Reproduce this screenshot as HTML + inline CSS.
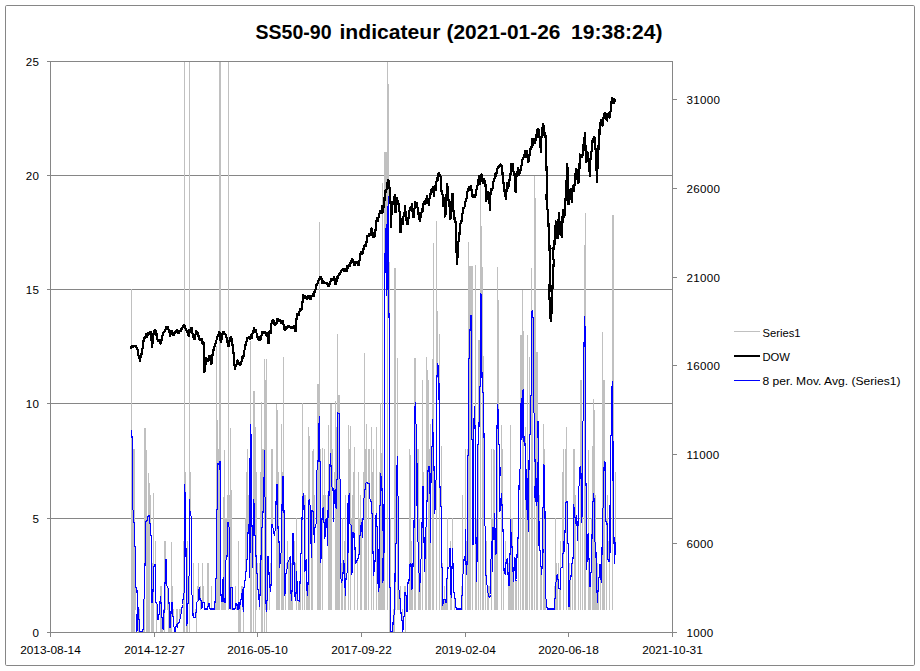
<!DOCTYPE html>
<html><head><meta charset="utf-8"><title>SS50-90 indicateur</title>
<style>
html,body{margin:0;padding:0;background:#fff;}
body{width:920px;height:671px;overflow:hidden;font-family:"Liberation Sans",sans-serif;}
svg{display:block;}
text{font-family:"Liberation Sans",sans-serif;fill:#000;}
.ax{font-size:11.6px;}
.ttl{font-size:20.6px;font-weight:bold;}
</style></head><body>
<svg width="920" height="671" viewBox="0 0 920 671">
<rect x="0" y="0" width="920" height="671" fill="#fff"/>
<rect x="5.5" y="5.5" width="909" height="660" rx="1.2" ry="1.2" fill="#fff" stroke="#868686" stroke-width="1"/>
<g stroke="#868686" stroke-width="1" shape-rendering="crispEdges" fill="none">
<line x1="50" y1="175.5" x2="673" y2="175.5"/>
<line x1="50" y1="289.5" x2="673" y2="289.5"/>
<line x1="50" y1="403.5" x2="673" y2="403.5"/>
<line x1="50" y1="518.5" x2="673" y2="518.5"/>
</g>
<g id="series1" fill="#c0c0c0" shape-rendering="crispEdges">
<rect x="132" y="509.75" width="1" height="123.25"/><rect x="133" y="472.12" width="1" height="38.63"/><rect x="134" y="546" width="1" height="64"/><rect x="134" y="449.28" width="1" height="74.1046"/><rect x="135" y="587.308" width="1" height="22.6923"/><rect x="137" y="629.917" width="1" height="-19.9167"/><rect x="138" y="619.5" width="1" height="13.5"/><rect x="139" y="609.16" width="1" height="11.34"/><rect x="143" y="629.5" width="1" height="3.5"/><rect x="144" y="599.125" width="1" height="33.875"/><rect x="144" y="540.64" width="1" height="23.36"/><rect x="145" y="494.96" width="1" height="27.6536"/><rect x="147" y="520.583" width="1" height="112.417"/><rect x="149" y="523.718" width="1" height="109.282"/><rect x="149" y="494.96" width="1" height="22.04"/><rect x="150" y="494.96" width="1" height="29.7576"/><rect x="151" y="602.4" width="1" height="30.6"/><rect x="152" y="603" width="1" height="30"/><rect x="152" y="563.48" width="1" height="28.52"/><rect x="155" y="540.64" width="1" height="24.36"/><rect x="156" y="604.121" width="1" height="28.8788"/><rect x="158" y="620" width="1" height="-10"/><rect x="159" y="615" width="1" height="-5"/><rect x="160" y="602.769" width="1" height="30.2308"/><rect x="160" y="586.32" width="1" height="10.68"/><rect x="161" y="617.5" width="1" height="15.5"/><rect x="161" y="586.32" width="1" height="17.4492"/><rect x="162" y="628.5" width="1" height="4.5"/><rect x="163" y="609.16" width="1" height="3.84"/><rect x="164" y="612" width="1" height="21"/><rect x="165" y="583.75" width="1" height="26.25"/><rect x="165" y="540.64" width="1" height="19.86"/><rect x="167" y="587.833" width="1" height="22.1667"/><rect x="168" y="602" width="1" height="31"/><rect x="169" y="627.294" width="1" height="5.70588"/><rect x="170" y="628" width="1" height="5"/><rect x="172" y="616.118" width="1" height="-6.11765"/><rect x="172" y="586.32" width="1" height="16.68"/><rect x="173" y="627" width="1" height="-17"/><rect x="173" y="609.16" width="1" height="7.95765"/><rect x="176" y="627.125" width="1" height="-17.125"/><rect x="176" y="609.16" width="1" height="16.34"/><rect x="177" y="628" width="1" height="-18"/><rect x="177" y="609.16" width="1" height="15.4282"/><rect x="178" y="623.588" width="1" height="-13.5882"/><rect x="179" y="609.16" width="1" height="10.9211"/><rect x="180" y="619.081" width="1" height="-9.08108"/><rect x="180" y="609.16" width="1" height="6.05622"/><rect x="183" y="599.5" width="1" height="33.5"/><rect x="183" y="586.32" width="1" height="7.79111"/><rect x="185" y="472.12" width="1" height="20.88"/><rect x="186" y="626" width="1" height="7"/><rect x="187" y="623.667" width="1" height="-13.6667"/><rect x="187" y="563.48" width="1" height="41.1867"/><rect x="190" y="472.12" width="1" height="40.88"/><rect x="192" y="613.5" width="1" height="-3.5"/><rect x="193" y="563.48" width="1" height="51.02"/><rect x="195" y="617.5" width="1" height="-7.5"/><rect x="195" y="609.16" width="1" height="4.41692"/><rect x="196" y="612.577" width="1" height="20.4231"/><rect x="197" y="586.32" width="1" height="15.7633"/><rect x="198" y="563.48" width="1" height="26.52"/><rect x="200" y="600.7" width="1" height="9.3"/><rect x="200" y="586.32" width="1" height="14.18"/><rect x="202" y="563.48" width="1" height="40.32"/><rect x="203" y="586.32" width="1" height="16.68"/><rect x="207" y="563.48" width="1" height="44.27"/><rect x="208" y="563.48" width="1" height="40.52"/><rect x="211" y="586.32" width="1" height="23.68"/><rect x="215" y="603" width="1" height="7"/><rect x="216" y="578.389" width="1" height="31.6111"/><rect x="217" y="449.28" width="1" height="15.5533"/><rect x="218" y="463.833" width="1" height="146.167"/><rect x="218" y="449.28" width="1" height="15.22"/><rect x="219" y="470" width="1" height="140"/><rect x="219" y="449.28" width="1" height="13.72"/><rect x="220" y="449.28" width="1" height="13.72"/><rect x="221" y="601.375" width="1" height="8.625"/><rect x="222" y="601.5" width="1" height="8.5"/><rect x="223" y="602" width="1" height="8"/><rect x="224" y="602.5" width="1" height="7.5"/><rect x="224" y="586.32" width="1" height="16.68"/><rect x="225" y="602.5" width="1" height="7.5"/><rect x="225" y="517.8" width="1" height="43.2769"/><rect x="226" y="517.8" width="1" height="39.4857"/><rect x="227" y="494.96" width="1" height="28.04"/><rect x="229" y="494.96" width="1" height="33.165"/><rect x="230" y="586.32" width="1" height="2.28"/><rect x="231" y="587.6" width="1" height="22.4"/><rect x="235" y="586.32" width="1" height="18.3723"/><rect x="236" y="604.714" width="1" height="5.28571"/><rect x="238" y="609" width="1" height="24"/><rect x="238" y="540.64" width="1" height="63.36"/><rect x="239" y="609" width="1" height="24"/><rect x="240" y="604.8" width="1" height="28.2"/><rect x="241" y="586.32" width="1" height="8.18"/><rect x="242" y="605.382" width="1" height="4.61765"/><rect x="242" y="586.32" width="1" height="4.18"/><rect x="243" y="612" width="1" height="21"/><rect x="245" y="517.8" width="1" height="55.2"/><rect x="246" y="472.12" width="1" height="88.5723"/><rect x="247" y="449.28" width="1" height="84.72"/><rect x="248" y="494.96" width="1" height="30.24"/><rect x="249" y="517.8" width="1" height="5.2"/><rect x="251" y="526.75" width="1" height="106.25"/><rect x="253" y="449.28" width="1" height="50.72"/><rect x="255" y="556" width="1" height="54"/><rect x="255" y="472.12" width="1" height="64.4633"/><rect x="256" y="573" width="1" height="37"/><rect x="256" y="472.12" width="1" height="84.88"/><rect x="257" y="563.48" width="1" height="10.52"/><rect x="259" y="607" width="1" height="3"/><rect x="259" y="563.48" width="1" height="32.8533"/><rect x="260" y="472.12" width="1" height="87.7371"/><rect x="262" y="527.808" width="1" height="105.192"/><rect x="262" y="449.28" width="1" height="63.97"/><rect x="263" y="449.28" width="1" height="31.6431"/><rect x="264" y="449.28" width="1" height="1.32"/><rect x="265" y="603.111" width="1" height="6.88889"/><rect x="265" y="494.96" width="1" height="3.20667"/><rect x="266" y="612" width="1" height="-2"/><rect x="266" y="586.32" width="1" height="15.5689"/><rect x="267" y="600.889" width="1" height="9.11111"/><rect x="269" y="587.5" width="1" height="22.5"/><rect x="270" y="563.48" width="1" height="23.0914"/><rect x="271" y="449.28" width="1" height="75.72"/><rect x="272" y="449.28" width="1" height="75.72"/><rect x="277" y="472.12" width="1" height="12.88"/><rect x="278" y="541.269" width="1" height="68.7308"/><rect x="278" y="472.12" width="1" height="57.88"/><rect x="279" y="568" width="1" height="42"/><rect x="279" y="540.64" width="1" height="1.62923"/><rect x="281" y="494.96" width="1" height="14.6554"/><rect x="282" y="508.615" width="1" height="101.385"/><rect x="282" y="472.12" width="1" height="4.88"/><rect x="283" y="449.28" width="1" height="28.22"/><rect x="285" y="593.471" width="1" height="16.5294"/><rect x="286" y="563.48" width="1" height="6.72"/><rect x="287" y="540.64" width="1" height="22.36"/><rect x="288" y="562" width="1" height="48"/><rect x="289" y="560" width="1" height="50"/><rect x="290" y="592.75" width="1" height="17.25"/><rect x="291" y="601" width="1" height="9"/><rect x="291" y="563.48" width="1" height="28.52"/><rect x="292" y="591" width="1" height="19"/><rect x="294" y="540.64" width="1" height="23.36"/><rect x="295" y="563.48" width="1" height="31.02"/><rect x="296" y="593.5" width="1" height="16.5"/><rect x="296" y="517.8" width="1" height="54.2"/><rect x="298" y="600.966" width="1" height="9.03378"/><rect x="299" y="601" width="1" height="9"/><rect x="300" y="583.25" width="1" height="26.75"/><rect x="304" y="572" width="1" height="38"/><rect x="304" y="494.96" width="1" height="11.54"/><rect x="305" y="494.96" width="1" height="66.5817"/><rect x="306" y="590.462" width="1" height="19.5385"/><rect x="307" y="596" width="1" height="14"/><rect x="308" y="584.5" width="1" height="25.5"/><rect x="308" y="449.28" width="1" height="52.6431"/><rect x="311" y="558" width="1" height="52"/><rect x="312" y="511.618" width="1" height="98.3824"/><rect x="312" y="494.96" width="1" height="16.04"/><rect x="313" y="449.28" width="1" height="63.3376"/><rect x="314" y="494.96" width="1" height="33.7067"/><rect x="317" y="449.28" width="1" height="13.22"/><rect x="318" y="461.5" width="1" height="148.5"/><rect x="320" y="563" width="1" height="47"/><rect x="320" y="449.28" width="1" height="13.3033"/><rect x="322" y="472.12" width="1" height="36.9094"/><rect x="323" y="494.96" width="1" height="13.04"/><rect x="324" y="449.28" width="1" height="73.72"/><rect x="325" y="494.96" width="1" height="25.54"/><rect x="327" y="494.96" width="1" height="16.54"/><rect x="328" y="449.28" width="1" height="46.6431"/><rect x="329" y="494.923" width="1" height="115.077"/><rect x="330" y="449.28" width="1" height="4.47"/><rect x="332" y="449.28" width="1" height="38.72"/><rect x="334" y="472.12" width="1" height="19.08"/><rect x="335" y="505.833" width="1" height="104.167"/><rect x="335" y="472.12" width="1" height="18.88"/><rect x="336" y="449.28" width="1" height="31.2585"/><rect x="339" y="479.167" width="1" height="130.833"/><rect x="341" y="583" width="1" height="27"/><rect x="341" y="563.48" width="1" height="16.607"/><rect x="342" y="581.05" width="1" height="28.95"/><rect x="342" y="517.8" width="1" height="56.45"/><rect x="344" y="587.4" width="1" height="22.6"/><rect x="344" y="540.64" width="1" height="24.5029"/><rect x="345" y="596" width="1" height="14"/><rect x="345" y="494.96" width="1" height="85.165"/><rect x="349" y="449.28" width="1" height="44.72"/><rect x="351" y="517.8" width="1" height="8.11667"/><rect x="352" y="494.96" width="1" height="38.04"/><rect x="353" y="472.12" width="1" height="60.88"/><rect x="354" y="494.96" width="1" height="38.84"/><rect x="357" y="560.447" width="1" height="49.5526"/><rect x="358" y="472.12" width="1" height="83.1877"/><rect x="359" y="517.8" width="1" height="18.7"/><rect x="360" y="535.5" width="1" height="74.5"/><rect x="360" y="494.96" width="1" height="31.24"/><rect x="361" y="531.067" width="1" height="78.9333"/><rect x="361" y="517.8" width="1" height="5.6"/><rect x="363" y="472.12" width="1" height="27.1685"/><rect x="364" y="472.12" width="1" height="18.705"/><rect x="365" y="489.825" width="1" height="120.175"/><rect x="365" y="449.28" width="1" height="34.795"/><rect x="366" y="483.075" width="1" height="126.925"/><rect x="368" y="483.505" width="1" height="126.495"/><rect x="368" y="472.12" width="1" height="12.0038"/><rect x="369" y="449.28" width="1" height="35.2248"/><rect x="371" y="513.385" width="1" height="96.6154"/><rect x="371" y="449.28" width="1" height="53.2408"/><rect x="372" y="472.12" width="1" height="42.2646"/><rect x="373" y="575.75" width="1" height="34.25"/><rect x="373" y="449.28" width="1" height="103.72"/><rect x="376" y="526.75" width="1" height="83.25"/><rect x="378" y="592" width="1" height="18"/><rect x="379" y="588" width="1" height="22"/><rect x="379" y="472.12" width="1" height="34.4078"/><rect x="380" y="505.528" width="1" height="104.472"/><rect x="382" y="583" width="1" height="27"/><rect x="382" y="472.12" width="1" height="18.0338"/><rect x="383" y="580.857" width="1" height="29.1429"/><rect x="387" y="290" width="1" height="320"/><rect x="390" y="517.8" width="1" height="70.7"/><rect x="393" y="623.875" width="1" height="9.125"/><rect x="393" y="609.16" width="1" height="7.0275"/><rect x="394" y="615.188" width="1" height="17.8125"/><rect x="395" y="578.786" width="1" height="31.2143"/><rect x="395" y="494.96" width="1" height="50.0988"/><rect x="398" y="590.269" width="1" height="19.7308"/><rect x="399" y="598.667" width="1" height="11.3333"/><rect x="400" y="586.32" width="1" height="13.3467"/><rect x="401" y="620" width="1" height="-10"/><rect x="402" y="609.16" width="1" height="11.84"/><rect x="403" y="629.5" width="1" height="-19.5"/><rect x="404" y="586.32" width="1" height="7.18"/><rect x="405" y="595.812" width="1" height="37.1875"/><rect x="405" y="586.32" width="1" height="6.68"/><rect x="406" y="612" width="1" height="-2"/><rect x="409" y="581" width="1" height="29"/><rect x="409" y="472.12" width="1" height="93.13"/><rect x="410" y="540.64" width="1" height="24.36"/><rect x="411" y="589.5" width="1" height="20.5"/><rect x="411" y="540.64" width="1" height="24.86"/><rect x="412" y="589.125" width="1" height="20.875"/><rect x="412" y="563.48" width="1" height="2.02"/><rect x="414" y="527" width="1" height="83"/><rect x="415" y="424.15" width="1" height="185.85"/><rect x="417" y="449.28" width="1" height="19.72"/><rect x="418" y="573" width="1" height="37"/><rect x="418" y="449.28" width="1" height="93.8376"/><rect x="419" y="592" width="1" height="18"/><rect x="419" y="517.8" width="1" height="56.2"/><rect x="420" y="582" width="1" height="28"/><rect x="422" y="528" width="1" height="82"/><rect x="423" y="472.12" width="1" height="15.88"/><rect x="425" y="558.667" width="1" height="51.3333"/><rect x="426" y="494.96" width="1" height="7.50154"/><rect x="429" y="493.667" width="1" height="116.333"/><rect x="429" y="449.28" width="1" height="18.2914"/><rect x="433" y="468" width="1" height="142"/><rect x="439" y="486.958" width="1" height="123.042"/><rect x="442" y="606" width="1" height="4"/><rect x="442" y="563.48" width="1" height="4.75077"/><rect x="443" y="604.088" width="1" height="5.91176"/><rect x="444" y="599.708" width="1" height="10.2917"/><rect x="444" y="586.32" width="1" height="13.68"/><rect x="445" y="603.25" width="1" height="6.75"/><rect x="446" y="602.625" width="1" height="7.375"/><rect x="447" y="578.75" width="1" height="31.25"/><rect x="447" y="517.8" width="1" height="50.8"/><rect x="450" y="590.333" width="1" height="19.6667"/><rect x="450" y="540.64" width="1" height="8.36"/><rect x="451" y="598" width="1" height="12"/><rect x="452" y="517.8" width="1" height="31.2"/><rect x="454" y="598.25" width="1" height="11.75"/><rect x="461" y="586.32" width="1" height="10.0133"/><rect x="462" y="595.333" width="1" height="14.6667"/><rect x="462" y="494.96" width="1" height="80.1724"/><rect x="465" y="472.12" width="1" height="57.88"/><rect x="466" y="540.64" width="1" height="22.36"/><rect x="467" y="449.28" width="1" height="7.16444"/><rect x="468" y="455.444" width="1" height="154.556"/><rect x="470" y="330" width="1" height="280"/><rect x="472" y="545" width="1" height="65"/><rect x="476" y="582" width="1" height="28"/><rect x="476" y="517.8" width="1" height="22.2833"/><rect x="485" y="575.438" width="1" height="34.5625"/><rect x="486" y="540.64" width="1" height="35.7975"/><rect x="487" y="592.673" width="1" height="17.3269"/><rect x="488" y="596.875" width="1" height="13.125"/><rect x="488" y="586.32" width="1" height="7.35308"/><rect x="489" y="586.32" width="1" height="11.1244"/><rect x="491" y="559.324" width="1" height="50.6765"/><rect x="491" y="449.28" width="1" height="103.72"/><rect x="492" y="517.8" width="1" height="9.95"/><rect x="493" y="449.28" width="1" height="78.47"/><rect x="495" y="554.5" width="1" height="55.5"/><rect x="496" y="553.786" width="1" height="56.2143"/><rect x="501" y="504.5" width="1" height="105.5"/><rect x="502" y="449.28" width="1" height="56.22"/><rect x="503" y="570.75" width="1" height="39.25"/><rect x="505" y="540.64" width="1" height="23.61"/><rect x="508" y="585.75" width="1" height="24.25"/><rect x="508" y="563.48" width="1" height="10.1931"/><rect x="509" y="585.75" width="1" height="24.25"/><rect x="510" y="494.96" width="1" height="25.04"/><rect x="511" y="546.676" width="1" height="63.3235"/><rect x="511" y="517.8" width="1" height="15.5125"/><rect x="512" y="571.688" width="1" height="38.3125"/><rect x="512" y="517.8" width="1" height="29.8765"/><rect x="513" y="582" width="1" height="28"/><rect x="515" y="580.75" width="1" height="29.25"/><rect x="516" y="580.542" width="1" height="29.4583"/><rect x="518" y="538" width="1" height="72"/><rect x="525" y="500" width="1" height="110"/><rect x="526" y="510" width="1" height="100"/><rect x="527" y="449.28" width="1" height="29.72"/><rect x="529" y="468" width="1" height="142"/><rect x="531" y="395.6" width="1" height="214.4"/><rect x="532" y="317.364" width="1" height="292.636"/><rect x="535" y="449.28" width="1" height="13.22"/><rect x="536" y="449.28" width="1" height="31.77"/><rect x="537" y="502" width="1" height="108"/><rect x="539" y="494.96" width="1" height="51.54"/><rect x="540" y="566.167" width="1" height="43.8333"/><rect x="541" y="574.5" width="1" height="35.5"/><rect x="544" y="513.962" width="1" height="96.0385"/><rect x="544" y="449.28" width="1" height="16.5771"/><rect x="545" y="598.875" width="1" height="11.125"/><rect x="554" y="586.32" width="1" height="13.3467"/><rect x="555" y="598.667" width="1" height="11.3333"/><rect x="555" y="517.8" width="1" height="65.1294"/><rect x="556" y="581.929" width="1" height="28.0706"/><rect x="556" y="563.48" width="1" height="13.9914"/><rect x="557" y="579.812" width="1" height="30.1875"/><rect x="558" y="563.48" width="1" height="17.3325"/><rect x="559" y="588.875" width="1" height="21.125"/><rect x="560" y="589" width="1" height="21"/><rect x="560" y="540.64" width="1" height="28.4069"/><rect x="562" y="472.12" width="1" height="82.5467"/><rect x="563" y="553.667" width="1" height="56.3333"/><rect x="565" y="449.28" width="1" height="53.9575"/><rect x="566" y="494.96" width="1" height="7.9525"/><rect x="568" y="606.209" width="1" height="3.79118"/><rect x="569" y="606.4" width="1" height="3.6"/><rect x="569" y="563.48" width="1" height="17.5008"/><rect x="570" y="579.981" width="1" height="30.0192"/><rect x="572" y="563.5" width="1" height="46.5"/><rect x="573" y="449.28" width="1" height="55.72"/><rect x="574" y="494.96" width="1" height="13.0547"/><rect x="575" y="524.25" width="1" height="85.75"/><rect x="575" y="494.96" width="1" height="23.3669"/><rect x="578" y="524.429" width="1" height="85.5714"/><rect x="580" y="449.28" width="1" height="17.72"/><rect x="581" y="449.28" width="1" height="26.8629"/><rect x="582" y="514.429" width="1" height="95.5714"/><rect x="589" y="587" width="1" height="23"/><rect x="590" y="587" width="1" height="23"/><rect x="591" y="517.8" width="1" height="20.7833"/><rect x="592" y="449.28" width="1" height="53.47"/><rect x="593" y="501.75" width="1" height="108.25"/><rect x="594" y="494.96" width="1" height="3.90111"/><rect x="595" y="552" width="1" height="58"/><rect x="595" y="494.96" width="1" height="48.1576"/><rect x="596" y="591.444" width="1" height="18.5556"/><rect x="597" y="603.25" width="1" height="6.75"/><rect x="597" y="563.48" width="1" height="28.9644"/><rect x="598" y="591.792" width="1" height="18.2083"/><rect x="600" y="579.5" width="1" height="30.5"/><rect x="602" y="552" width="1" height="58"/><rect x="602" y="494.96" width="1" height="14.2483"/><rect x="603" y="508.208" width="1" height="101.792"/><rect x="606" y="524.25" width="1" height="85.75"/><rect x="606" y="517.8" width="1" height="4.08462"/><rect x="607" y="494.96" width="1" height="29.04"/><rect x="608" y="540.64" width="1" height="19.6517"/><rect x="609" y="562" width="1" height="48"/><rect x="615" y="472.12" width="1" height="70.63"/><rect x="131" y="289" width="1" height="344"/><rect x="133" y="449" width="1" height="184"/><rect x="134" y="455" width="1" height="178"/><rect x="144" y="428" width="1.5" height="136"/><rect x="144" y="428" width="1" height="205"/><rect x="146" y="450" width="1" height="183"/><rect x="148" y="473" width="1" height="160"/><rect x="149" y="483" width="1" height="150"/><rect x="153" y="493" width="1" height="140"/><rect x="164" y="541" width="1" height="92"/><rect x="171" y="542" width="1" height="91"/><rect x="183" y="541" width="1" height="92"/><rect x="187" y="541" width="1" height="92"/><rect x="184" y="61" width="1" height="572"/><rect x="189" y="61" width="1" height="572"/><rect x="216" y="346" width="1" height="264"/><rect x="217" y="420" width="1" height="190"/><rect x="219" y="61" width="2" height="402"/><rect x="219" y="61" width="1" height="549"/><rect x="223" y="497" width="2" height="106"/><rect x="223" y="497" width="1" height="113"/><rect x="224" y="450" width="1" height="160"/><rect x="228" y="61" width="1" height="549"/><rect x="230" y="428" width="1" height="182"/><rect x="231" y="490" width="1" height="120"/><rect x="250" y="341" width="1" height="292"/><rect x="250" y="380" width="1" height="253"/><rect x="253" y="391" width="2" height="112.75"/><rect x="253" y="391" width="1" height="242"/><rect x="255" y="427" width="1" height="206"/><rect x="261" y="402" width="1" height="231"/><rect x="264" y="380" width="1.5" height="118.167"/><rect x="264" y="380" width="1" height="253"/><rect x="264" y="358.5" width="1" height="274.5"/><rect x="266" y="358.5" width="1" height="274.5"/><rect x="276" y="404" width="1" height="206"/><rect x="277" y="410" width="1" height="200"/><rect x="281" y="424" width="1" height="186"/><rect x="283" y="357" width="1" height="253"/><rect x="302" y="403" width="1" height="207"/><rect x="308" y="427" width="1" height="183"/><rect x="309" y="436" width="1" height="174"/><rect x="312" y="451" width="1" height="159"/><rect x="317" y="384" width="3" height="78.5"/><rect x="317" y="384" width="1" height="226"/><rect x="319" y="222" width="1" height="388"/><rect x="322" y="448" width="1" height="162"/><rect x="328" y="425" width="1" height="185"/><rect x="330" y="404" width="1.6" height="62.4583"/><rect x="330" y="404" width="1" height="206"/><rect x="331" y="447" width="1" height="163"/><rect x="335" y="401" width="1" height="209"/><rect x="336" y="427" width="1" height="183"/><rect x="337" y="333.5" width="1" height="276.5"/><rect x="338" y="395" width="1.5" height="19.4"/><rect x="338" y="395" width="1" height="215"/><rect x="348" y="424.6" width="1" height="185.4"/><rect x="350" y="426" width="1" height="184"/><rect x="354" y="447" width="1" height="163"/><rect x="364" y="353" width="1" height="257"/><rect x="365" y="451" width="1" height="159"/><rect x="366" y="424" width="1" height="186"/><rect x="368" y="449" width="1" height="161"/><rect x="371" y="427" width="1" height="183"/><rect x="376" y="427" width="1" height="183"/><rect x="380" y="403" width="1" height="207"/><rect x="381" y="453" width="1" height="157"/><rect x="382" y="183" width="1" height="427"/><rect x="384" y="152" width="4.3" height="102"/><rect x="384" y="152" width="1" height="458"/><rect x="387" y="84" width="1.6" height="135"/><rect x="387" y="84" width="1" height="526"/><rect x="387" y="61" width="1" height="549"/><rect x="389" y="262" width="1" height="371"/><rect x="394" y="268" width="1.5" height="311.786"/><rect x="394" y="268" width="1" height="342"/><rect x="395" y="370" width="1" height="240"/><rect x="397" y="358" width="1" height="252"/><rect x="409" y="449" width="1" height="161"/><rect x="410" y="455" width="1" height="155"/><rect x="414" y="358" width="1.5" height="50.6667"/><rect x="414" y="358" width="1" height="252"/><rect x="422" y="380" width="1" height="230"/><rect x="426" y="370" width="1.5" height="132.462"/><rect x="426" y="370" width="1" height="240"/><rect x="426" y="357" width="1" height="253"/><rect x="428" y="380" width="1" height="230"/><rect x="430" y="424" width="1" height="186"/><rect x="432" y="358.5" width="1" height="251.5"/><rect x="433" y="243" width="1" height="367"/><rect x="436" y="311" width="2.4" height="66.75"/><rect x="436" y="311" width="1" height="299"/><rect x="436" y="220.5" width="1" height="389.5"/><rect x="439" y="333.5" width="1" height="276.5"/><rect x="441" y="446" width="1" height="164"/><rect x="465" y="449" width="1" height="161"/><rect x="467" y="450" width="1" height="160"/><rect x="468" y="242" width="1" height="368"/><rect x="469" y="266" width="3" height="65"/><rect x="469" y="266" width="1" height="344"/><rect x="472" y="266" width="1" height="344"/><rect x="475" y="265" width="1" height="345"/><rect x="478" y="340" width="1.5" height="86"/><rect x="478" y="340" width="1" height="270"/><rect x="480" y="175.5" width="1" height="434.5"/><rect x="480" y="226" width="1.5" height="69"/><rect x="480" y="226" width="1" height="384"/><rect x="482" y="267" width="1" height="343"/><rect x="483" y="356" width="1" height="254"/><rect x="494" y="450" width="1" height="160"/><rect x="497" y="300" width="1.6" height="109.861"/><rect x="497" y="300" width="1" height="310"/><rect x="497" y="267" width="1" height="343"/><rect x="501" y="425" width="1" height="185"/><rect x="510" y="425" width="1" height="185"/><rect x="520" y="335" width="3.5" height="68.75"/><rect x="520" y="335" width="1" height="275"/><rect x="522" y="290" width="1" height="320"/><rect x="523" y="331" width="1" height="279"/><rect x="525" y="427" width="1" height="183"/><rect x="527" y="335" width="1" height="275"/><rect x="529" y="357" width="1" height="253"/><rect x="531" y="268" width="1" height="342"/><rect x="534" y="198" width="1.8" height="264.5"/><rect x="534" y="198" width="1" height="412"/><rect x="534" y="175.5" width="1" height="434.5"/><rect x="536" y="352" width="1.5" height="129.05"/><rect x="536" y="352" width="1" height="258"/><rect x="536" y="437" width="1" height="173"/><rect x="537" y="464" width="1" height="146"/><rect x="543" y="424" width="1" height="186"/><rect x="544" y="449" width="1" height="161"/><rect x="563" y="449" width="1" height="161"/><rect x="566" y="427" width="1" height="183"/><rect x="574" y="449" width="1" height="161"/><rect x="563" y="449" width="1" height="161"/><rect x="580" y="380" width="1.5" height="96.1429"/><rect x="580" y="380" width="1" height="230"/><rect x="584" y="245" width="1.8" height="82"/><rect x="584" y="245" width="1" height="365"/><rect x="585" y="213" width="1" height="397"/><rect x="588" y="450" width="1" height="160"/><rect x="592" y="446" width="1" height="164"/><rect x="593" y="399" width="1" height="211"/><rect x="594" y="410" width="1" height="200"/><rect x="602" y="332" width="1" height="278"/><rect x="603" y="380" width="2.4" height="89"/><rect x="603" y="380" width="1" height="230"/><rect x="604" y="449" width="1" height="161"/><rect x="612" y="215" width="1.8" height="254"/><rect x="612" y="215" width="1" height="395"/><rect x="612" y="355" width="1" height="255"/>
</g>
<polyline id="dow" points="130.62,347.36 130.93,348.47 131.25,346.1 131.56,347.53 131.87,346.29 132.19,345.81 132.5,347.99 132.81,346.38 133.12,345.58 133.44,346.09 133.75,346.51 134.06,345.86 134.37,346.8 134.69,345.64 135,346.43 135.31,346.94 135.62,346.45 135.93,346.31 136.25,346.39 136.56,348.2 136.87,348.97 137.19,349.23 137.5,349.96 137.81,350.07 138.12,352.67 138.44,354.83 138.75,357.1 139.06,357.11 139.38,358.77 139.69,358.65 140,361.4 140.31,358.22 140.63,356.99 140.94,358.14 141.25,353.6 141.57,354.48 141.88,352.94 142.19,350.08 142.5,348.59 142.81,346.66 143.13,345.14 143.44,341.65 143.75,338.7 144.06,338.19 144.37,337.37 144.69,338.04 145,337.1 145.31,338.82 145.62,335.54 145.93,335.32 146.25,335.14 146.56,333.44 146.87,337.49 147.18,333.06 147.5,334.2 147.81,333.9 148.12,336.15 148.43,332.2 148.75,334.71 149.06,332.99 149.37,333.08 149.68,332.3 150,333.52 150.31,331.49 150.62,332.09 150.95,335.7 151.27,340.51 151.6,338.88 151.92,345.21 152.25,348.25 152.54,342.08 152.83,338.01 153.12,332.63 153.45,334.37 153.77,332.6 154.1,331.17 154.42,330.32 154.75,329.68 155.05,330.78 155.36,331 155.66,335.42 155.97,332.54 156.27,330.6 156.58,335.1 156.88,337 157.19,338.75 157.5,339.21 157.81,340.1 158.12,341.58 158.44,341.84 158.75,339.78 159.06,338.88 159.38,340.91 159.7,340.79 160.03,339.63 160.35,343.87 160.68,343.77 161,342.82 161.3,340.56 161.6,340.86 161.9,338.77 162.2,337.13 162.5,335.59 162.81,335.17 163.12,336.06 163.44,333.49 163.75,330.68 164.06,332.23 164.37,331.42 164.69,331.7 165,331.74 165.31,329.6 165.62,328.63 165.93,328.35 166.25,326.7 166.56,328.29 166.87,329.32 167.19,327.86 167.5,326.75 167.81,327.67 168.13,328.12 168.44,329.07 168.75,330.66 169.07,331.39 169.38,332.92 169.67,332.69 169.96,335.73 170.25,336.91 170.56,333.79 170.88,330.32 171.19,330.92 171.5,331.15 171.82,330.52 172.15,331.51 172.47,332.5 172.8,335.06 173.12,334.67 173.43,336.15 173.75,334.66 174.06,335.45 174.37,334.26 174.69,333.34 175,331.28 175.31,331.31 175.63,331.44 175.94,332.2 176.25,331.5 176.57,329.78 176.88,330.32 177.19,331.81 177.5,331.18 177.81,331.06 178.13,331.48 178.44,333.43 178.75,333.98 179.06,331.69 179.37,332.31 179.69,331.03 180,329.99 180.31,331.77 180.62,331.32 180.93,329.02 181.25,329.12 181.56,329.36 181.87,327.7 182.19,327.61 182.5,328.25 182.81,325.15 183.13,326.77 183.44,327.45 183.75,327.1 184.07,324.47 184.38,325.65 184.69,325.28 185,327.52 185.31,328.67 185.63,329.02 185.94,328.45 186.25,329.07 186.56,331.28 186.88,330.04 187.19,331.79 187.5,332.59 187.81,332.18 188.12,335.67 188.44,334.08 188.75,336.54 189.06,331.39 189.37,329.34 189.69,332.28 190,332.13 190.31,330.46 190.62,329.89 190.94,327.48 191.25,328.33 191.56,327.92 191.88,328.7 192.2,332.04 192.53,333.17 192.85,335.14 193.18,335.67 193.5,337.43 193.81,338.24 194.12,338.09 194.44,340 194.75,338.07 195.05,338.95 195.35,334.35 195.65,334.24 195.95,330.59 196.25,331.24 196.56,330.95 196.87,331.9 197.19,333.25 197.5,332.62 197.81,332.68 198.12,332.23 198.43,336.5 198.75,335.82 199.06,336.33 199.37,337.67 199.69,340.93 200,337.92 200.31,339.41 200.63,339.1 200.94,340.19 201.25,337.81 201.57,338.93 201.88,340.75 202.2,342.51 202.53,343.37 202.85,341.09 203.18,341.96 203.5,342.36 203.79,350.94 204.09,360.61 204.38,372.81 204.69,370.33 205,367.44 205.31,366.25 205.62,361.76 205.94,360.37 206.25,357.61 206.56,358.4 206.88,359.89 207.19,360.63 207.5,361.61 207.81,360.58 208.13,361.34 208.44,358.34 208.75,358.23 209.07,356.99 209.38,354.86 209.69,357.49 210,357.62 210.31,361.06 210.63,361.07 210.94,362.67 211.25,365.17 211.56,363.42 211.88,361.2 212.19,358.77 212.5,355.09 212.8,352.47 213.1,352.35 213.4,350.93 213.7,348.04 214,348.36 214.32,347.44 214.65,345.52 214.97,346.26 215.3,344.05 215.62,343.63 215.95,343.62 216.27,340.22 216.6,340.1 216.92,337.31 217.25,337.95 217.55,336.12 217.86,336.28 218.16,333.83 218.47,334.14 218.77,335.29 219.08,334.53 219.38,331.09 219.7,335.6 220.03,338.08 220.35,338.6 220.68,342.25 221,341.67 221.31,340 221.62,339.36 221.94,337.82 222.25,335.77 222.56,332.86 222.86,331.26 223.17,333.42 223.47,331.71 223.78,332.8 224.08,331.63 224.39,334.12 224.69,334.38 225,334.09 225.31,334.22 225.63,334.91 225.94,335.29 226.25,336.83 226.57,337.68 226.88,338.76 227.2,339.15 227.53,343 227.85,343.11 228.18,345.45 228.5,346.98 228.8,343.11 229.1,340.16 229.4,341.82 229.7,339.28 230,338.16 230.31,337.67 230.62,337.89 230.94,336.27 231.25,337.03 231.56,338.71 231.88,341.07 232.19,340.38 232.5,345.26 232.81,348.25 233.12,348.81 233.44,352.18 233.75,355.97 234.06,360.14 234.38,362.96 234.69,367.57 235,369.76 235.31,367.36 235.62,366.26 235.94,366.63 236.25,364.5 236.56,364.19 236.88,363.14 237.19,361.26 237.5,360.08 237.81,360.15 238.12,361.28 238.44,361.88 238.75,362.96 239.06,362.86 239.38,364.59 239.69,365.2 240,365.69 240.31,365.32 240.62,364.15 240.94,361.61 241.25,361.39 241.56,360.94 241.87,360.63 242.19,358.47 242.5,356.66 242.81,358.1 243.12,357.88 243.44,356.51 243.75,354.43 244.06,353.45 244.38,350.07 244.69,349.83 245,347.31 245.31,344.36 245.62,345.03 245.94,345.79 246.25,340.91 246.56,341.41 246.88,338.15 247.19,337.92 247.5,338.23 247.81,338.35 248.13,336.82 248.44,337.58 248.75,338 249.06,338.3 249.37,336.26 249.69,338.25 250,338.95 250.31,339.49 250.62,334.91 250.94,336.27 251.25,334.67 251.56,337.39 251.88,338.75 252.19,335.56 252.5,333.21 252.81,333.73 253.13,333.38 253.44,330.56 253.75,329.48 254.06,326.98 254.37,328.75 254.69,330.39 255,330.96 255.31,333 255.62,330.35 255.93,329.12 256.25,332.73 256.56,332.99 256.87,334.74 257.19,336.32 257.5,337.19 257.81,338.67 258.12,339.28 258.44,336.21 258.75,337.69 259.06,340.85 259.38,339.14 259.69,340.69 260,340.22 260.31,338.52 260.63,339.68 260.94,338.56 261.25,335.96 261.57,335.91 261.88,332.45 262.19,332.24 262.5,333.91 262.82,333.06 263.13,331.27 263.44,332.43 263.75,332.34 264.07,333.24 264.38,332.84 264.69,331.73 265,331.51 265.31,332.19 265.63,332.56 265.94,335.01 266.25,336.08 266.56,335.51 266.88,333.83 267.19,332.31 267.5,332.97 267.83,336.31 268.17,341.28 268.5,343.77 268.79,340.28 269.09,338.34 269.38,331.63 269.69,330.16 270,331.17 270.31,333.42 270.62,333.48 270.94,327.94 271.25,323.81 271.56,323.32 271.88,321.57 272.19,321.77 272.5,320.8 272.81,319.47 273.13,320.43 273.44,321.24 273.75,320.83 274.07,320.56 274.38,323.21 274.7,325.45 275.03,323.53 275.35,323.16 275.68,324.52 276,324.22 276.3,322.48 276.6,324.13 276.9,320.81 277.2,319.71 277.5,318.86 277.81,318.58 278.13,319.34 278.44,320.57 278.75,321.99 279.07,321.34 279.38,320.38 279.69,318.91 280,320.38 280.31,319.94 280.63,321.22 280.94,323.21 281.25,323.04 281.56,322.27 281.87,321.31 282.19,321.91 282.5,322.16 282.81,320.82 283.12,320.95 283.44,324.63 283.75,323.77 284.06,326.5 284.38,327.7 284.69,330.63 285,330.03 285.32,329.59 285.63,329.16 285.94,328.74 286.25,328.46 286.57,325.9 286.88,327.36 287.19,328.1 287.5,325.7 287.81,327.81 288.13,328.07 288.44,325.34 288.75,325.88 289.06,326.4 289.38,326.38 289.69,327.63 290,325.99 290.31,327 290.62,327.92 290.94,328.89 291.25,328.41 291.56,327.89 291.88,328.92 292.19,325.86 292.5,328.71 292.81,327.89 293.12,326.52 293.44,327.19 293.75,325.62 294.06,325.81 294.37,328.6 294.69,329.37 295,332.04 295.31,331.36 295.62,331.32 296,319.56 296.29,321.35 296.59,318.4 296.88,315.58 297.19,314.27 297.5,313.41 297.81,314.02 298.13,314.56 298.44,315.25 298.75,315.03 299.06,313.54 299.37,311.63 299.69,310.57 300,308.06 300.31,308.84 300.62,310.63 300.94,309.86 301.25,310.38 301.56,307.99 301.88,310.15 302.25,304.35 302.54,301.88 302.83,300.19 303.12,294.53 303.43,295.77 303.75,295.45 304.06,299 304.37,296.94 304.69,295.82 305,297.29 305.31,295.45 305.63,298.77 305.94,296.94 306.25,297.69 306.57,297 306.88,299.54 307.19,295.61 307.5,298.38 307.81,296.73 308.13,297.3 308.44,295.53 308.75,296.78 309.06,297.43 309.37,298.39 309.69,298.47 310,299.16 310.31,300.08 310.62,298.62 310.93,296.45 311.25,295.29 311.56,297.28 311.87,295.82 312.19,297 312.5,295.41 312.81,293.36 313.13,295.32 313.44,297.05 313.75,294.24 314.07,292.22 314.38,291.62 314.69,292.92 315,290.32 315.31,289.11 315.62,289.55 315.94,287.88 316.25,286.79 316.56,284.73 316.88,283.26 317.2,283.59 317.53,283.09 317.85,283.05 318.18,280.86 318.5,281.01 318.8,280.55 319.1,279.2 319.4,278.94 319.7,278.88 320,276.99 320.31,277.33 320.62,276.43 320.94,278.75 321.25,279.28 321.56,278.99 321.87,278.23 322.19,280.21 322.5,283.74 322.81,281.53 323.12,280.54 323.44,281.56 323.75,280.88 324.06,282.31 324.38,282.14 324.69,282.03 325,283.37 325.31,283.78 325.63,283.46 325.94,282.46 326.25,283.84 326.56,282.38 326.87,284.91 327.19,284.05 327.5,284.5 327.81,285.92 328.12,286.1 328.44,283.85 328.75,285.17 329.06,286.75 329.38,285.38 329.7,281.36 330.03,282.54 330.35,281.66 330.68,280.93 331,279.01 331.3,279.01 331.61,279.17 331.91,280.91 332.21,280.02 332.51,279.88 332.82,278.44 333.12,280.35 333.43,278.87 333.75,279.88 334.06,275.88 334.37,278.4 334.69,278.52 335,278 335.31,282.97 335.62,284.77 335.94,282.39 336.25,280.17 336.56,282.13 336.88,279.9 337.19,279.13 337.5,276.5 337.81,278.64 338.13,277.74 338.44,275.95 338.75,275.44 339.06,272.7 339.37,275.15 339.69,272.8 340,274.84 340.31,273.09 340.62,272.06 340.95,272.79 341.27,272.27 341.6,269.62 341.92,270.1 342.25,270.8 342.55,269.99 342.86,268.24 343.16,269.63 343.47,269.01 343.77,269.58 344.08,270.82 344.38,271.11 344.69,270.58 345,268 345.31,270.19 345.63,269.67 345.94,268.98 346.25,269.44 346.56,271.95 346.87,267.3 347.19,265.33 347.5,268.19 347.81,266.19 348.12,268.62 348.41,265.37 348.71,265.02 349,266.67 349.29,266.9 349.59,265.91 349.88,265.37 350,265.04 350.31,263.17 350.63,262.22 350.94,263.44 351.25,262.01 351.57,259.7 351.88,258.74 352.19,260.12 352.5,261.42 352.81,260.04 353.13,260.17 353.44,261.24 353.75,265.5 354.06,263.63 354.38,265.48 354.69,262.25 355,265.87 355.31,262.5 355.63,261.77 355.94,261.9 356.25,262.31 356.57,262.53 356.88,262.49 357.19,262.49 357.5,261.52 357.81,266.13 358.13,263.9 358.44,263.85 358.75,266.04 359.06,263.56 359.37,261.32 359.69,259.34 360,260.3 360.31,254.8 360.62,252.6 360.93,254.07 361.25,250.83 361.56,251.97 361.87,255.26 362.19,253.44 362.5,253.91 362.81,253.51 363.12,249.33 363.44,249.57 363.75,247.1 364.06,245.54 364.37,246.11 364.69,246.23 365,245.29 365.31,244.24 365.62,246.27 365.94,245.99 366.25,243.99 366.56,241.46 366.88,238.28 367.19,236.93 367.5,235.16 367.81,236.02 368.12,236.51 368.43,236.63 368.75,234.82 369.06,233.51 369.37,233.92 369.69,233.68 370,234.21 370.31,235.73 370.63,232.23 370.94,235.99 371.25,229.54 371.57,228.32 371.88,228.32 372.2,230.1 372.53,232.56 372.85,237.78 373.18,235 373.5,238.04 373.8,235.45 374.1,235.21 374.4,232.68 374.7,237.22 375,233.92 375.31,229.13 375.62,230.64 375.94,225.02 376.25,221.68 376.56,220.31 376.87,218.51 377.19,216.75 377.5,218.32 377.81,221.7 378.12,220.17 378.44,217.23 378.75,217.56 379.06,212.85 379.38,214.71 379.69,212.71 380,210.48 380.31,212.46 380.63,212.42 380.94,210.59 381.25,210.93 381.56,212.39 381.87,213.47 382.19,209.51 382.5,205.16 382.81,212.61 383.12,210.14 383.5,208.01 383.79,206.45 384.09,202.27 384.38,201.81 384.67,195.58 384.96,194.12 385.25,189.85 385.58,193.13 385.92,189.26 386.25,189.68 386.56,189.53 386.88,183.46 387.19,182.93 387.5,183.72 387.83,181.45 388.17,179.41 388.5,179.77 388.79,183.06 389.09,182.92 389.38,185.83 389.69,189.91 390,191.95 390.31,199.19 390.62,204.27 391,227.63 391.29,218.17 391.59,211.39 391.88,203.83 392.19,203.58 392.5,203.45 392.81,201.32 393.13,202.84 393.44,204.54 393.75,203.23 394.08,200.89 394.42,197.82 394.75,194.15 395.04,203.54 395.33,205.85 395.62,213.11 395.94,211.43 396.25,207.31 396.56,201.41 396.88,197.51 397.19,202.97 397.5,200.02 397.81,201.59 398.12,203.45 398.41,204.99 398.71,203.46 399,204.44 399.33,210.4 399.67,212.86 400,216.6 400.31,225.25 400.62,233.39 400.91,225.64 401.21,219.14 401.5,218.29 401.81,218.44 402.12,218.92 402.44,219 402.75,224.92 403.08,219.82 403.42,216.71 403.75,216.76 404.06,215.69 404.38,214.95 404.69,210.48 405,205.47 405.31,209.72 405.62,213.33 405.94,214.86 406.25,219.34 406.56,220.79 406.88,219.93 407.19,223.88 407.5,224.89 407.81,222.23 408.12,223.03 408.44,216.82 408.75,218.73 409.06,217.92 409.38,210.56 409.69,210.72 410,209.41 410.31,207.34 410.63,207.54 410.94,206.83 411.25,207.97 411.57,206.79 411.88,203.22 412.19,209.9 412.5,211.95 412.81,210.2 413.13,213.84 413.44,217.79 413.75,213.17 414.06,211.28 414.38,208.73 414.69,208.22 415,204.61 415.3,201.39 415.6,204.94 415.9,202.19 416.2,202.84 416.5,205.31 416.83,202.25 417.17,203.54 417.5,207.75 417.81,208.3 418.12,211.01 418.44,212.12 418.75,218.97 419.06,218.08 419.38,218.74 419.69,219.91 420,222.08 420.31,216.95 420.62,216.95 420.94,217.62 421.25,213.06 421.56,212.72 421.88,210.97 422.19,208.35 422.5,211.92 422.8,208.95 423.1,206.74 423.4,203.33 423.7,203.37 424,201.9 424.32,201.3 424.65,201.09 424.97,204.75 425.3,202.79 425.62,202.36 425.95,201.58 426.27,203.99 426.6,197.7 426.92,194.73 427.25,196.69 427.55,198.46 427.85,199.31 428.15,199.11 428.45,202.4 428.75,206.04 429.06,201.94 429.38,198.65 429.69,199.17 430,194.99 430.31,193.69 430.62,194.2 430.94,188.79 431.25,195.11 431.56,191.7 431.88,191.14 432.19,189.66 432.5,188.55 432.8,185.75 433.1,191.66 433.4,191.24 433.7,191.06 434,197.08 434.32,189.13 434.65,190.62 434.97,188.87 435.3,185.2 435.62,190.62 435.94,183.32 436.25,183.46 436.56,181.64 436.88,180.33 437.19,177.41 437.5,180.77 437.81,178.77 438.12,174.57 438.45,173.21 438.77,175.43 439.1,172.59 439.42,174.67 439.75,174.51 440.04,175.26 440.33,174.6 440.62,177.61 440.91,183.57 441.21,185.19 441.5,192.16 441.83,189.99 442.17,192.01 442.5,194.02 442.83,197.23 443.17,201.58 443.5,207.1 443.79,202.76 444.09,200.72 444.38,197 444.71,207.23 445.05,210.82 445.38,217.47 445.67,205.36 445.96,203.02 446.25,197.3 446.58,194.4 446.92,188.99 447.25,182.66 447.54,188.05 447.83,194.66 448.12,199.9 448.44,198.96 448.75,203.18 449.06,202.44 449.38,206.01 449.69,206.93 450,213.18 450.31,219.51 450.62,218.76 450.91,215.35 451.21,205.61 451.5,200.78 451.83,203.65 452.17,196.48 452.5,193.14 452.81,198.15 453.12,209.3 453.44,209.63 453.75,214.33 454.06,213.24 454.38,219.56 454.69,216.65 455,220.39 455.31,219.01 455.62,223.42 455.94,239.22 456.25,250.24 456.58,252.54 456.92,259.46 457.25,265.33 457.5,255.5 457.75,246.96 458.08,240.6 458.42,242.63 458.75,239.39 459.06,232.26 459.37,235.8 459.69,231.06 460,230.03 460.31,223.8 460.62,223.06 460.94,220 461.25,223.07 461.56,220.98 461.88,218.27 462.19,214.82 462.5,213.68 462.8,210.51 463.1,211.94 463.4,208.76 463.7,206.79 464,208.2 464.33,207.35 464.67,206.76 465,206.81 465.33,203.01 465.67,200.9 466,201.27 466.31,200.21 466.62,198.32 466.94,197.7 467.25,192.15 467.54,192.08 467.83,188.43 468.12,188.39 468.43,190.96 468.75,186.2 469.06,189.83 469.37,187.5 469.69,187.29 470,186.43 470.3,189.14 470.6,187.47 470.9,184.65 471.2,189.05 471.5,189.6 471.83,193.84 472.17,196.86 472.5,196.15 472.81,197.61 473.13,197.5 473.44,196.78 473.75,196.62 474.07,196.69 474.38,194.71 474.7,195.23 475.03,197.64 475.35,194.39 475.68,195.57 476,194.15 476.31,190.84 476.62,189.15 476.94,187.79 477.25,188.02 477.55,184.61 477.85,185.46 478.15,184.33 478.45,182.53 478.75,175.15 479.06,180.45 479.38,181.98 479.69,180.52 480,182.85 480.31,184.77 480.62,179.02 480.94,177.94 481.25,179.6 481.56,174.21 481.88,173.95 482.19,177.17 482.5,179.62 482.81,181.07 483.13,180.81 483.44,184.2 483.75,181.47 484.06,178.07 484.38,180.03 484.69,182.75 485,183.5 485.33,181.81 485.67,188.2 486,189.66 486,200.48 486.3,202.11 486.6,198.09 486.9,194.8 487.2,193.72 487.5,191.11 487.81,197.39 488.12,197.51 488.44,198.64 488.75,196.78 489.06,199.22 489.38,203.89 489.69,202.82 490,210.9 490.31,198.42 490.62,190.88 490.93,190.99 491.25,188.17 491.56,189.1 491.87,189.39 492.19,191.22 492.5,188.07 492.81,188.77 493.12,185.08 493.44,181.67 493.75,181.77 494.06,178.45 494.38,178.28 494.69,178.5 495,178.91 495.31,177.17 495.62,172.95 495.94,177.3 496.25,175.85 496.58,172.52 496.92,169.06 497.25,169.5 497.56,168.7 497.88,168.52 498.19,166.08 498.5,168.25 498.8,165.27 499.11,165.93 499.41,165.65 499.71,167.39 500.01,164.15 500.32,164.16 500.62,164.34 500.94,164.39 501.25,165.12 501.56,164.86 501.88,169.57 502.17,174.53 502.46,172.55 502.75,177.52 503.12,178.62 503.5,182.89 503.79,185.93 504.09,189.12 504.38,192.13 504.69,189.27 505,190.94 505.31,195.24 505.62,196.85 505.94,199.58 506.25,194.2 506.56,190.71 506.88,192.07 507.17,183.59 507.46,181.77 507.75,189.17 508.06,185.58 508.38,186.64 508.69,186.99 509,186.27 509.33,183.4 509.67,177.36 510,177.48 510.33,175.42 510.67,172.7 511,166.68 511.3,163.48 511.6,165.51 511.9,164.55 512.2,167.22 512.5,163.53 512.81,165.52 513.12,169.27 513.44,171.87 513.75,172.88 514.08,171.25 514.42,172.97 514.75,179.81 515.04,183.39 515.33,184.04 515.62,192.88 515.91,185.2 516.21,179.93 516.5,173.34 516.82,176.67 517.15,173.88 517.47,172.04 517.8,169.1 518.12,166.87 518.43,170.51 518.75,171.77 519.07,175.97 519.38,172.67 519.69,171.61 520,173.33 520.31,172.59 520.62,168.5 520.91,170.32 521.21,167.31 521.5,166.04 521.81,163.79 522.12,163.62 522.44,159.7 522.75,158.21 523.08,159.8 523.4,157.87 523.73,156.48 524.05,156.96 524.38,154.3 524.69,155.06 525,150.23 525.31,153.22 525.62,157.44 525.93,153.24 526.25,152.39 526.57,152.25 526.88,150.36 527.2,154.78 527.53,156.82 527.85,157.72 528.18,162.41 528.5,162.3 528.81,158.43 529.12,157.78 529.44,156.41 529.75,152.53 530.06,148.76 530.38,147.98 530.69,148.34 531,148.37 531.31,150.04 531.62,145.4 531.94,143.28 532.25,137.66 532.55,144.48 532.85,145.66 533.15,144.23 533.45,142.58 533.75,138.26 534.06,143.19 534.38,140.15 534.69,143.54 535,141.79 535.31,142.06 535.62,138.36 535.94,139.83 536.25,133.79 536.56,137.77 536.87,134.54 537.18,130.27 537.5,130.11 537.81,127.91 538.12,129.31 538.43,129.42 538.75,129.5 539.07,132.89 539.38,135.31 539.7,139.09 540.03,143.09 540.35,147.29 540.68,148.43 541,153.36 541.29,138.87 541.59,135.99 541.88,133.04 542.19,127.6 542.5,127.95 542.81,128.18 543.12,123.37 543.43,125.41 543.75,129.14 544.06,128.53 544.37,133.15 544.69,136.73 545,132.63 545.31,132.75 545.62,138.1 546,156.13 546.29,161.66 546.59,170.85 546.88,178.64 546.5,198.99 546.88,203.99 547.19,207.68 547.5,209.47 547.81,210.6 548.12,214.43 548.41,221.87 548.71,230.02 549,235.94 549.33,240.31 549.67,254.25 550,261.57 549.69,278.41 549.38,296 549.65,301.1 549.93,305.8 550.2,313.15 550.48,316.88 550.75,321.69 551.03,317.1 551.32,314.61 551.6,312.38 551.88,308.77 552.17,299.61 552.46,288.35 552.75,280.23 553.08,272.67 553.42,267.27 553.75,261.01 553.44,258.96 553.12,257.35 552.81,253.09 552.5,247.53 552.81,248.45 553.13,250.02 553.44,249.74 553.75,249.14 554.07,246.14 554.38,246.19 554.69,236.63 555,227.53 555.31,226.66 555.62,224.46 555.94,221.58 556.25,220.86 556.56,224.26 556.88,229.79 557.19,235.91 557.5,238.95 557.8,233.44 558.1,226.79 558.4,221.38 558.7,217.32 559,212.03 559.33,218.83 559.67,224.87 560,228.19 560.31,234.03 560.63,235.53 560.94,232.39 561.25,233.47 561.57,235.04 561.88,237.53 562.17,230.66 562.46,221.94 562.75,209.12 563.08,218.33 563.4,217.32 563.73,217.39 564.05,214.91 564.38,216.22 564.69,212.95 565,205.79 565.31,203.29 565.62,196.93 565.93,193.88 566.25,185.92 566.58,180.12 566.92,166.26 567.25,163.03 567.54,169.85 567.83,175.63 568.12,185.78 568.5,204.98 568.81,201.55 569.12,197.22 569.44,192.6 569.75,190.03 570.06,189.59 570.38,192.17 570.69,189.74 571,188.51 571.29,194.55 571.59,199.75 571.88,203.35 572.17,198.86 572.46,190.32 572.75,185.08 573.06,186.92 573.38,188.07 573.69,188.52 574,192.11 574.33,186.52 574.67,183.55 575,176.97 575.3,176.66 575.6,173.14 575.9,172.02 576.2,169.25 576.5,168.77 576.81,174.75 577.12,176.38 577.44,178.88 577.75,180.67 578.06,184.2 578.38,181.52 578.69,182.9 579,180.53 579.38,170.84 579.75,155.97 580.05,153.63 580.35,157.79 580.65,155.36 580.95,155.51 581.25,156.37 581.56,157.14 581.88,157.01 582.19,154.45 582.5,155.44 582.83,152.47 583.17,149.6 583.5,145.2 583.8,142.92 584.1,138.33 584.4,137.38 584.7,137.82 585,132.32 585.31,140.26 585.62,151.56 585.93,159.39 586.25,163.03 586.55,159.96 586.85,155.83 587.15,155.26 587.45,152.36 587.75,152.32 588.08,156.89 588.42,159.66 588.75,164.31 589.08,164.47 589.42,167.48 589.75,177.05 590.04,171.83 590.33,161.97 590.62,157.44 590.93,153.01 591.25,152.5 591.57,151.45 591.88,150.96 592.19,144.69 592.5,140.57 592.81,141.71 593.12,138.12 593.43,142.63 593.75,138.83 594.07,139.69 594.38,136.01 594.69,144.92 595,148.74 595.31,148.87 595.62,148.51 595.93,152.2 596.25,160.45 596.57,170.14 596.88,183.33 597.17,176.83 597.46,167.78 597.75,163.26 598.12,156.38 598.5,148.95 598.75,137.07 599,128.58 599.38,133.15 599.75,134.54 600.04,127.67 600.33,128.89 600.62,120.81 600.93,118.95 601.25,122 601.56,123 601.87,121.56 602.19,126.13 602.5,126.05 602.81,121.74 603.12,120.96 603.44,119.38 603.75,115.48 604.06,116.85 604.38,113.87 604.69,113.47 605,115.12 605.31,112.42 605.62,114.81 605.94,114.9 606.25,119.76 606.56,116.73 606.88,120.89 607.19,120.55 607.5,114.56 607.81,114.75 608.13,113.21 608.44,113.25 608.75,114.47 609.07,116.31 609.38,118.03 609.69,118.09 610,111.02 610.31,111.34 610.62,112.33 610.93,106.25 611.25,101.38 611.56,101.93 611.88,98.7 612.19,96.86 612.5,102.87 612.81,100.54 613.13,103.55 613.44,97.65 613.75,100.9 614.07,102.47 614.38,102 614.69,98.69 615,102.41 614.69,100.01 614.37,98.79 614.06,101.41 613.75,103.55 613.43,102.59 613.12,103.12" fill="none" stroke="#000" stroke-width="2.15" stroke-linejoin="bevel" shape-rendering="crispEdges"/>
<polyline id="mavg" points="131.25,430 132,436 132.5,455 132.5,509 133.5,510.5 133.75,522 134.4,523 134.75,543 135.5,552 135.6,587 136.9,588 137.5,607 136.5,622 136.9,632 138.1,607 139,619.5 139.75,632 142.5,632 143.5,627 143.75,599.5 144.75,598 145,563 145.6,562 145.8,552 145.8,521.75 146.9,521 148.1,516 149.4,516 149.75,523.6 150.6,524 151,535.5 151.5,536 151.5,552 151.5,602 152.75,603 153.5,567 155,564 155.6,602 157.25,604.5 157.75,619.5 158.75,620 159.4,607 160.6,596 161.25,607 162.25,621 163.1,629.5 163.75,619.5 164.75,589.5 165.25,578 166,559.5 166.9,586 168.1,588 169,602 169.75,627 170.6,628 171.25,604.5 172.25,602 173.1,618 174,627 175,632 176.25,624.5 177.25,628 178.1,623 179.4,622 181.25,613 182.5,604.5 183.5,594.5 184.4,592 184.6,577 184.5,552 184.4,484 185,492 185.6,493 186,552 186.5,600 186.9,626 187.5,612 188.1,602 188.75,577 189.5,574.5 189.5,552 189.4,499 190,512 190.6,512.5 191.25,518 191.5,552 191.5,594.5 192.5,596 193.1,617 195.6,617.5 196.25,609.5 196.9,602 198.1,601 198.75,589.5 199.75,587.5 200,599.5 201.25,601 201.9,609 202.75,603 204,602 204.75,609 207.5,609 208.5,604.5 209,603 210,609 214.4,609 215,603 215.6,579.5 216.5,577 216.7,552 216.5,510 217.5,509 217.5,464 219,463.5 219.3,470 219.8,462 220.5,462 220.6,552 220.6,584.5 221.25,601 222.25,601.5 222.5,581 223.5,577 224,602 225,602.5 225.25,584.5 225.6,561 226.9,558 227.25,552 227.25,522 228.5,522.5 228.75,527 229.75,527.5 229.6,552 229.4,607 230,609 230.6,587.6 232.25,587.6 232.5,609 235,609 235.6,604 236.9,603 237.25,609 238.1,609 238.5,603 239.9,603 239.25,609 240.5,602 241.75,596 242.4,589.5 243.25,612 244,587 245.5,577 246.75,564.5 247.4,552 248,533 249.25,522 249.3,578 250,552 250,468 250.25,424 251.1,436 251.75,468 251.75,526.75 252.75,525.5 252.75,568 253.25,499 254.25,504 254.9,535.5 255.5,536 255.75,552 256.75,568 257.75,588 258.6,592 259.5,607 260.25,589.5 260.75,576 261.1,552 261.1,533 262.4,525.5 263.6,499 264.25,468 264.25,449.6 264.9,468 264.9,497 265.5,498 265.6,552 265.6,596 266.5,612 267.4,592 267.75,557 268.6,556 269.25,583 270.75,592 271.1,583 271.5,552 272,524 273.6,530.5 274.25,535.5 275.5,528 276.1,499 277,484 277.75,498 278,529 278.6,530.5 279.25,548 279.5,568 280.5,559.5 281.1,552 281.1,530.5 281.75,529 282.4,476 283.6,477 284,513 284.5,513.6 284.6,552 284.6,574.5 284.9,596 285.75,574.5 286.75,571 288,562 289.25,559.5 290.25,556 290.5,584.5 291.5,601 292.4,583 293,552 293,533 293.6,543 293.7,552 294.9,596 295.75,601 296.75,571 297.4,600.75 299.25,601 299.9,587 300.5,564.5 301.1,552 301.75,526.75 302.4,506.75 303.25,493 304,505.5 304.5,552 304.9,572 306.1,559.5 306.75,587 307.4,596 308,584.5 308.6,552 308.6,504 309.25,499 310.25,506.75 310.75,543 311.1,543.6 311.5,558 311.75,510.5 312.75,510 313.6,515.5 314.25,543 314.9,528 316.1,524 316.5,473 317.4,468 318,461.5 318.6,439 319.25,416 319.9,461.5 320.5,462 320.75,468 320.9,563 321.4,533 322.4,510.5 323.25,507 324,522 324.9,539 325.5,520.5 326.75,518 327.6,546 328,510.5 328.6,518 329.25,480.5 329.9,468 330.5,452.75 331.1,468 331.75,486.75 333,488 333.6,521.75 334.25,490.5 335.5,490 336.1,509 336.75,480.5 337.4,478 337.4,468 337.4,433 337.75,412.75 339,413.4 339.5,419 339.9,468 339.9,479 340.5,480 340.6,552 340.6,577 341.75,583 343,573.25 343.9,560 344.25,574.5 345.5,596 346.1,575.75 347.4,572 348,552 348,504 349.25,493 349.9,524 351.1,525 351.5,552 351.75,574.5 352.9,564.5 353,532 354.25,533 354.9,545.5 355.5,564 357.4,559.5 358.6,558 359.25,552 359.25,546.75 360.5,528 361.5,522.4 362.4,538 363.6,501.75 364.9,490.5 366.1,482.4 369.25,483.6 369.9,499 371.1,501.75 371.75,510.5 372.4,518 373,552 373.6,575.75 374.9,563 375.5,552 375.5,516.75 376.5,513 377,526.75 377.75,527.4 378,552 378,583 378.6,592 379.5,583 379.7,552 379.6,506.75 380.5,504 380.75,479 380.5,473 381.75,480.5 382.4,503 383,504 383.1,552 382.9,583 383.6,568 384,552 384.4,552 384.6,256 385.4,250 385.6,228 386.3,296 387,224 387.6,290 388.1,200 388.4,196 388.7,230 388.7,298 389.2,326 389.4,552 389.5,587 390.5,588 390.75,632 392.75,632 393.25,615.75 394.25,615 394.9,589.5 395.25,552 396.1,543 396.75,473 397.4,456 397.75,495.5 398.4,496.75 398.6,552 398.6,589.5 399.25,590.75 399.6,598 400.5,599.5 401.25,619.5 402,620 402.4,627 402.75,632 403.25,627 403.5,617 404.5,615.75 404.75,593 405.25,592 405.75,595.75 406.75,596 407,612 407.75,607 408,582 409,581 409.5,564.5 410.5,564 411,564.5 411.75,589.5 412.75,588 413,564.5 413.6,552 414,527 414.5,468 414.5,419 415.25,402 415.75,424 416.75,424.6 417,468 417,505.5 417.4,506.75 417.75,541.75 418.6,543 418.6,552 418.6,572.6 419.25,573.25 419.5,592 420.25,577 420.75,559.5 421.5,558 421.6,552 421.5,529 422,528 422.4,487 423.6,487 424,540.5 424.5,572 425.25,552 425.25,528 426.1,526.75 426.75,506.75 427.4,493 428,470.5 428.6,468 428.9,466 429.25,468 429.5,493 430.25,494 430.5,543 431.1,468 431.5,447 432.4,446.5 432.4,419 433,432.75 433.6,434 434,468 434.25,480.5 434.9,514 435.5,481.75 436.5,478 436.5,468 436.5,390 437.5,363.5 438.5,366 439,384 439.25,464 439.9,464.6 439.9,484 440.5,501.75 441.5,510.5 441.75,552 441.75,567 442.4,567.6 442.75,606 443.6,599.5 444.9,599 445.5,603.25 446.5,602 446.75,579 447.75,578 448,567.6 449.25,567 449.5,552 450,548 450.5,552 451.1,598 451.75,577 452.4,552 452.6,548 452.75,552 453,564.5 453.6,589.5 454.5,595.75 455.25,599.5 455.75,607 456.5,609 461.1,609 461.5,595.75 462.4,595 462.75,574.5 463.6,573.25 464,559.5 464.9,558 465.5,552 465.25,529 465.8,552 466.25,574.5 467,565 467.5,552 467.5,456 468.4,455 468.4,359 469.5,358 470,330 470.9,315.6 471.5,316 471.75,384 471.75,439 472.3,440 472.5,538 473,545 473.2,468 473.4,439 473.75,424 474.6,406.5 475.25,439 475.9,440 475.9,530.5 476.5,582 477.2,552 477.5,468 478,444 478.75,442.75 479,425 479.6,390 480.25,384 480.3,300 480.9,293 481.6,300 482,377 482.6,384 483,392.75 483.75,393.4 484,437.75 484.6,439 484.6,525.5 485.25,526.75 485.5,552 485.9,574.5 487.1,585.75 488.4,595.75 489.6,598 490.5,594.5 490.9,559.5 491.75,558 492,552 492.1,535.5 492.75,572 493,526.75 494,540 494.6,513 495.25,538 495.9,554.5 496.25,552 496.5,468 496.75,439 497.5,404 498.4,412.75 498.75,444 499.6,445.25 500,468 499.9,512 501.5,493 502.75,521.75 503.4,543 503.8,552 504,570.75 505.25,574.5 506.25,559.5 507.1,559 507.75,564.5 508.4,585.75 509.25,585.75 509.6,564.5 510.1,552 510.25,519 511.25,536.75 512.1,548 512.2,552 512.75,568.25 513.75,582 514.25,557 515.25,558.25 515.9,580.75 516.5,579.5 517.1,552 517.75,543 518.75,523 519,486.75 519.6,470.5 520.25,468 520.25,402.75 521,440 521.5,398 522.2,438 522.75,390 523.75,389.6 524,441.5 525,442.75 525.2,454 525.9,459 526,473 525.5,500 526.2,470 526.6,510 527.1,478 527.5,520 528,490 528.4,532 529,468 529.25,436.5 530.25,434 530.25,396.5 531.5,395 531.75,384 531.5,356 531.8,320 532.1,310 533.2,319 533.4,384 533.75,412.75 534.6,414 535,461.5 535.9,462.75 534.8,498 535.4,470 535.9,500.5 536.5,505.5 536.8,486.75 537.3,470 537.8,502 538.2,440 537.1,422 538.75,422 538.9,468 539,545.5 540.25,552 540.9,564.5 541.5,574.5 542.5,563.25 543,552 542.6,508 543.4,506.75 543.6,475.5 543.7,464 544.4,466 544.6,475.5 545.25,538 545.5,552 545.5,598.25 546.5,599.5 547.1,609 554.25,609 554.6,599 555.5,598.25 555.9,582 556.75,581.4 557.1,574.5 557.75,577 558.75,588.25 560.25,589 560.5,568.25 562.1,567.6 562.5,554.5 564,552 564,541.75 565,533 565.5,502.4 567.5,501.75 567.75,543 568.4,544.25 568.5,552 568.4,605.75 569.25,606.4 569.6,580.75 570.9,578.25 571.5,564.5 572.75,562 573.4,552 573.5,516.75 573.75,504 574.6,514.25 575.9,524.25 576.5,515.5 577.1,526.75 577.75,540.5 578.1,518 578.5,486.75 579.4,485.5 579.75,470.5 580.2,466 580.9,468 581.25,493 581.9,523 582.25,493 582.5,468 582.5,421.5 583.5,420 583.5,384 584,345 584.5,316 585.2,330 585.6,384 585.6,468 586.25,493 586.5,552 586.25,569.5 587.2,560 588.1,533 588.75,552 590,587 591.25,569.5 591.9,552 591.9,543 592.5,510.5 593.5,493 594.4,501.75 594.75,541.75 595.6,543 596,552 596.2,575.75 596.6,582 597.5,603.25 598.1,589.5 598.75,580.75 599.4,573.25 600,564.5 601.25,583.25 601.9,564.5 602,552 602.5,515.5 603.1,506.75 603.75,504.25 604,468 604.4,461.5 605.2,462 605.6,515.5 606.25,524.25 607.25,523 607.5,552 608.1,560.75 609.4,562 610,552 610,509.25 610.6,468 610.6,436 611.5,435.25 611.5,392.75 612.25,384 612.5,381 612.9,384 613,468 613.1,493 613.75,494.25 614,543 614.75,564 615.2,546.75 615.6,541.75" fill="none" stroke="#0000ff" stroke-width="1.08" stroke-linejoin="miter" stroke-miterlimit="2" shape-rendering="crispEdges"/>
<g stroke="#868686" stroke-width="1" shape-rendering="crispEdges" fill="none">
<line x1="50" y1="61.5" x2="673" y2="61.5"/>
<line x1="50.5" y1="61" x2="50.5" y2="633"/>
<line x1="672.5" y1="61" x2="672.5" y2="633"/>
<line x1="47" y1="632.5" x2="673" y2="632.5"/>
<line x1="47" y1="61.5" x2="51" y2="61.5"/>
<line x1="47" y1="175.5" x2="51" y2="175.5"/>
<line x1="47" y1="289.5" x2="51" y2="289.5"/>
<line x1="47" y1="403.5" x2="51" y2="403.5"/>
<line x1="47" y1="518.5" x2="51" y2="518.5"/>
<line x1="47" y1="632.5" x2="51" y2="632.5"/>
<line x1="50.5" y1="632" x2="50.5" y2="637"/>
<line x1="154.5" y1="632" x2="154.5" y2="637"/>
<line x1="257.5" y1="632" x2="257.5" y2="637"/>
<line x1="361.5" y1="632" x2="361.5" y2="637"/>
<line x1="465.5" y1="632" x2="465.5" y2="637"/>
<line x1="568.5" y1="632" x2="568.5" y2="637"/>
<line x1="672.5" y1="632" x2="672.5" y2="637"/>
<line x1="672" y1="99.5" x2="677" y2="99.5"/>
<line x1="672" y1="188.5" x2="677" y2="188.5"/>
<line x1="672" y1="277.5" x2="677" y2="277.5"/>
<line x1="672" y1="365.5" x2="677" y2="365.5"/>
<line x1="672" y1="454.5" x2="677" y2="454.5"/>
<line x1="672" y1="543.5" x2="677" y2="543.5"/>
<line x1="672" y1="632.5" x2="677" y2="632.5"/>
</g>
<g class="ax">
<text x="39.3" y="65.8" text-anchor="end" letter-spacing="0.3">25</text>
<text x="39.3" y="179.8" text-anchor="end" letter-spacing="0.3">20</text>
<text x="39.3" y="293.8" text-anchor="end" letter-spacing="0.3">15</text>
<text x="39.3" y="407.8" text-anchor="end" letter-spacing="0.3">10</text>
<text x="39.3" y="522.8" text-anchor="end" letter-spacing="0.3">5</text>
<text x="39.3" y="636.8" text-anchor="end" letter-spacing="0.3">0</text>
<text x="686.5" y="103.8" letter-spacing="0.32">31000</text>
<text x="686.5" y="192.8" letter-spacing="0.32">26000</text>
<text x="686.5" y="281.8" letter-spacing="0.32">21000</text>
<text x="686.5" y="369.8" letter-spacing="0.32">16000</text>
<text x="686.5" y="458.8" letter-spacing="0.32">11000</text>
<text x="686.5" y="547.8" letter-spacing="0.32">6000</text>
<text x="686.5" y="636.8" letter-spacing="0.32">1000</text>
<text x="50.5" y="654.3" text-anchor="middle" textLength="60.6" lengthAdjust="spacingAndGlyphs">2013-08-14</text>
<text x="154.5" y="654.3" text-anchor="middle" textLength="60.6" lengthAdjust="spacingAndGlyphs">2014-12-27</text>
<text x="257.5" y="654.3" text-anchor="middle" textLength="60.6" lengthAdjust="spacingAndGlyphs">2016-05-10</text>
<text x="361.5" y="654.3" text-anchor="middle" textLength="60.6" lengthAdjust="spacingAndGlyphs">2017-09-22</text>
<text x="465.5" y="654.3" text-anchor="middle" textLength="60.6" lengthAdjust="spacingAndGlyphs">2019-02-04</text>
<text x="568.5" y="654.3" text-anchor="middle" textLength="60.6" lengthAdjust="spacingAndGlyphs">2020-06-18</text>
<text x="672.5" y="654.3" text-anchor="middle" textLength="60.6" lengthAdjust="spacingAndGlyphs">2021-10-31</text>
</g>
<g class="ttl">
<text x="255.5" y="38.5" textLength="76" lengthAdjust="spacingAndGlyphs">SS50-90</text>
<text x="339.5" y="38.5" textLength="101" lengthAdjust="spacingAndGlyphs">indicateur</text>
<text x="446.5" y="38.5" textLength="114" lengthAdjust="spacingAndGlyphs">(2021-01-26</text>
<text x="571" y="38.5" textLength="91.5" lengthAdjust="spacingAndGlyphs">19:38:24)</text>
</g>
<g shape-rendering="crispEdges">
<rect x="734" y="331" width="26" height="1" fill="#c0c0c0"/>
<rect x="734" y="355" width="26" height="2" fill="#000"/>
<rect x="734" y="380" width="26" height="1" fill="#0000ff"/>
</g>
<g class="ax">
<text x="762.5" y="336.5" textLength="38" lengthAdjust="spacingAndGlyphs">Series1</text>
<text x="762.5" y="360.5" textLength="27.5" lengthAdjust="spacingAndGlyphs">DOW</text>
<text x="762.5" y="385" textLength="138" lengthAdjust="spacingAndGlyphs">8 per. Mov. Avg. (Series1)</text>
</g>
</svg>
</body></html>
